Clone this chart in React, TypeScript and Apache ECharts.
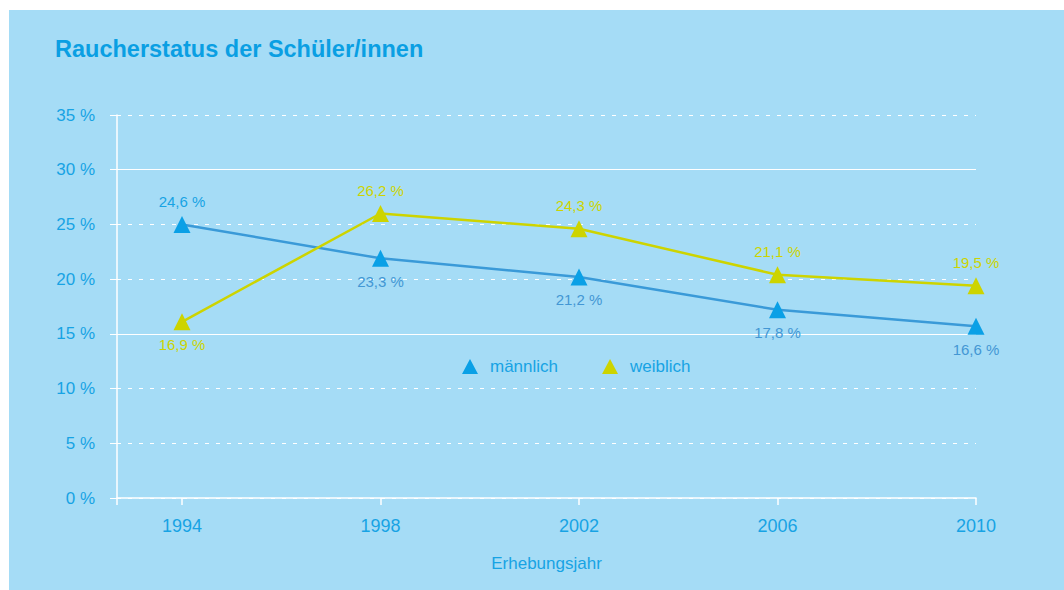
import React, { useEffect, useRef } from "react";
import * as echarts from "echarts";

const years = [1994, 1998, 2002, 2006, 2010];
const maleValues = [25.0, 21.9, 20.2, 17.2, 15.7];
const femaleValues = [16.1, 26.0, 24.6, 20.4, 19.4];
const maleLabels = ["24,6 %", "23,3 %", "21,2 %", "17,8 %", "16,6 %"];
const femaleLabels = ["16,9 %", "26,2 %", "24,3 %", "21,1 %", "19,5 %"];
const yTicks = [0, 5, 10, 15, 20, 25, 30, 35];
const solidGridValues = [15, 30];

const BLUE_TEXT = "#17a3e4";
const MALE_LINE = "#3a9ad8";
const MALE_MARK = "#0aa0e6";
const MALE_LABEL = "#4397d4";
const YELLOW = "#cdd400";
const FONT = "'Liberation Sans', Arial, sans-serif";

export default function App() {
  const ref = useRef<HTMLDivElement>(null);
  useEffect(() => {
    if (!ref.current) return;
    const chart = echarts.init(ref.current, null, { renderer: "svg" });
    const xMin = 1992.69;
    chart.setOption({
      animation: false,
      backgroundColor: "#ffffff",
      textStyle: { fontFamily: FONT },
      graphic: [
        {
          type: "rect",
          z: -10,
          shape: { x: 9, y: 10, width: 1055, height: 580 },
          style: { fill: "#a5dcf6" },
        },
        {
          type: "text",
          left: 55,
          top: 37,
          style: {
            text: "Raucherstatus der Schüler/innen",
            fill: "#0a9fe3",
            font: `bold 23.5px ${FONT}`,
          },
        },
      ],
      legend: {
        left: 457,
        top: 353,
        icon: "triangle",
        itemWidth: 16,
        itemHeight: 15,
        itemGap: 44,
        textStyle: { color: BLUE_TEXT, fontSize: 17, padding: [0, 0, 0, 7] },
        data: ["männlich", "weiblich"],
      },
      grid: { left: 117, right: 88, top: 115, bottom: 92 },
      xAxis: {
        type: "value",
        min: xMin,
        max: 2010,
        name: "Erhebungsjahr",
        nameLocation: "middle",
        nameGap: 57,
        nameTextStyle: { color: BLUE_TEXT, fontSize: 17 },
        axisLine: { show: true, lineStyle: { color: "#ffffff", width: 1.5 } },
        axisTick: {
          show: true,
          length: 7,
          lineStyle: { color: "#ffffff", width: 1.5 },
          customValues: [xMin, ...years],
        },
        axisLabel: {
          color: BLUE_TEXT,
          fontSize: 18,
          margin: 19,
          customValues: years,
          formatter: (v: number) => String(Math.round(v)),
        },
        splitLine: { show: false },
      },
      yAxis: {
        type: "value",
        min: 0,
        max: 35,
        interval: 5,
        axisLine: { show: true, lineStyle: { color: "#ffffff", width: 1.5 } },
        axisTick: { show: true, length: 7, lineStyle: { color: "#ffffff", width: 1 } },
        axisLabel: {
          color: BLUE_TEXT,
          fontSize: 17,
          margin: 22,
          formatter: (v: number) => (yTicks.includes(v) ? `${v} %` : ""),
        },
        splitLine: {
          show: true,
          lineStyle: { color: "#ffffff", width: 1, type: [4, 7] },
        },
      },
      series: [
        {
          name: "männlich",
          type: "line",
          symbol: "triangle",
          symbolSize: 17,
          lineStyle: { color: MALE_LINE, width: 2.5 },
          itemStyle: { color: MALE_MARK },
          z: 3,
          data: years.map((y, i) => ({
            value: [y, maleValues[i]],
            label: {
              show: true,
              formatter: maleLabels[i],
              position: i === 0 ? "top" : "bottom",
              distance: 7,
              color: i === 0 ? BLUE_TEXT : MALE_LABEL,
              fontSize: 15,
            },
          })),
          markLine: {
            silent: true,
            symbol: "none",
            label: { show: false },
            lineStyle: { color: "#ffffff", width: 1.2, type: "solid" },
            data: solidGridValues.map((v) => ({ yAxis: v })),
            z: 1,
          },
        },
        {
          name: "weiblich",
          type: "line",
          symbol: "triangle",
          symbolSize: 17,
          lineStyle: { color: YELLOW, width: 2.5 },
          itemStyle: { color: YELLOW },
          z: 4,
          data: years.map((y, i) => ({
            value: [y, femaleValues[i]],
            label: {
              show: true,
              formatter: femaleLabels[i],
              position: i === 0 ? "bottom" : "top",
              distance: 7,
              color: YELLOW,
              fontSize: 15,
            },
          })),
        },
      ],
    });
    return () => chart.dispose();
  }, []);
  return (
    <div
      ref={ref}
      style={{ position: "absolute", left: 0, top: 0, width: 1064, height: 590 }}
    />
  );
}
